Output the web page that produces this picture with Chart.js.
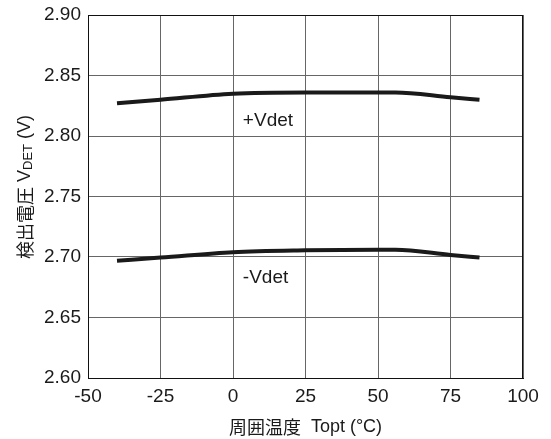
<!DOCTYPE html>
<html>
<head>
<meta charset="utf-8">
<script src="https://cdn.jsdelivr.net/npm/chart.js@4"></script>
<style>
  html, body { margin: 0; padding: 0; background: #fff; }
  #wrap { width: 551px; height: 439px; }
</style>
</head>
<body>
<div id="wrap"><canvas id="chart" width="551" height="439"></canvas></div>
<script>
// 周囲温度 (°C)
const temps = [-40, -25, 0, 25, 50, 56, 75, 85];
// 検出電圧 (V)
const vdetPlus = [2.827, 2.830, 2.835, 2.836, 2.836, 2.836, 2.832, 2.830];
const vdetMinus = [2.697, 2.6995, 2.704, 2.7055, 2.706, 2.706, 2.7017, 2.6995];
const xTicks = [-50, -25, 0, 25, 50, 75, 100];
const yTicks = [2.60, 2.65, 2.70, 2.75, 2.80, 2.85, 2.90];
const seriesLabels = ['+Vdet', '-Vdet'];
// ラベル位置 (データ座標)
const labelPos = [[3.4, 2.813], [3.4, 2.683]];

const FONT = '"Liberation Sans", Arial, sans-serif';
const CJK = '"Noto Sans CJK JP", "Noto Sans CJK SC", sans-serif';

function toPoints(xs, ys) {
    return xs.map((x, i) => ({ x: x, y: ys[i] }));
}

// 軸タイトル・曲線ラベル・枠線
const decor = {
    id: 'decor',
    afterDraw(chart) {
        const ctx = chart.ctx;
        const a = chart.chartArea;
        const sx = chart.scales.x, sy = chart.scales.y;
        ctx.save();
        ctx.strokeStyle = '#111';
        ctx.lineWidth = 1;
        ctx.strokeRect(a.left + 0.5, a.top + 0.5, a.right - a.left - 1, a.bottom - a.top);

        ctx.fillStyle = '#1a1a1a';
        ctx.textBaseline = 'middle';
        ctx.textAlign = 'left';
        ctx.font = '19px ' + FONT;
        seriesLabels.forEach((t, i) => {
            ctx.fillText(t, sx.getPixelForValue(labelPos[i][0]), sy.getPixelForValue(labelPos[i][1]));
        });

        // x title
        const parts = [['周囲温度', '18px ' + CJK], ['  Topt (°C)', '18px ' + FONT]];
        let w = 0;
        parts.forEach(p => { ctx.font = p[1]; w += ctx.measureText(p[0]).width; });
        let x = (a.left + a.right) / 2 - w / 2;
        parts.forEach(p => { ctx.font = p[1]; ctx.fillText(p[0], x, 427); x += ctx.measureText(p[0]).width; });

        // y title (rotated)
        const yparts = [['検出電圧', '18px ' + CJK], [' V', '18px ' + FONT], ['DET', '13px ' + FONT], [' (V)', '18px ' + FONT]];
        w = 0;
        yparts.forEach(p => { ctx.font = p[1]; w += ctx.measureText(p[0]).width; });
        ctx.translate(25, 187);
        ctx.rotate(-Math.PI / 2);
        x = -w / 2;
        yparts.forEach(p => {
            ctx.font = p[1];
            ctx.fillText(p[0], x, p[0] === 'DET' ? 3 : 0);
            x += ctx.measureText(p[0]).width;
        });
        ctx.restore();
    }
};

const ctx = document.getElementById('chart');
new Chart(ctx.getContext('2d'), {
    type: 'line',
    data: {
        datasets: [
            { label: seriesLabels[0], data: toPoints(temps, vdetPlus) },
            { label: seriesLabels[1], data: toPoints(temps, vdetMinus) }
        ].map(d => Object.assign(d, {
            borderColor: '#1a1a1a',
            borderWidth: 4,
            pointRadius: 0,
            fill: false,
            cubicInterpolationMode: 'monotone'
        }))
    },
    options: {
        responsive: false,
        animation: false,
        layout: { padding: { top: 15, right: 28, left: 0, bottom: 0 } },
        plugins: { legend: { display: false }, tooltip: { enabled: false } },
        scales: {
            x: {
                type: 'linear',
                min: xTicks[0],
                max: xTicks[xTicks.length - 1],
                afterBuildTicks: s => { s.ticks = xTicks.map(v => ({ value: v })); },
                afterFit: s => { s.height = 61; s.paddingLeft = 0; s.paddingRight = 0; },
                grid: { color: '#666', lineWidth: 1, drawTicks: false },
                border: { color: '#111' },
                ticks: { color: '#1a1a1a', padding: 7, maxRotation: 0, font: { size: 19, family: FONT } }
            },
            y: {
                min: yTicks[0],
                max: yTicks[yTicks.length - 1],
                afterBuildTicks: s => { s.ticks = yTicks.map(v => ({ value: v })); },
                afterFit: s => { s.width = 88; s.paddingTop = 0; s.paddingBottom = 0; },
                grid: { color: '#666', lineWidth: 1, drawTicks: false },
                border: { color: '#111' },
                ticks: {
                    color: '#1a1a1a', padding: 7, font: { size: 19, family: FONT },
                    callback: v => v.toFixed(2)
                }
            }
        }
    },
    plugins: [decor]
});
</script>
</body>
</html>
